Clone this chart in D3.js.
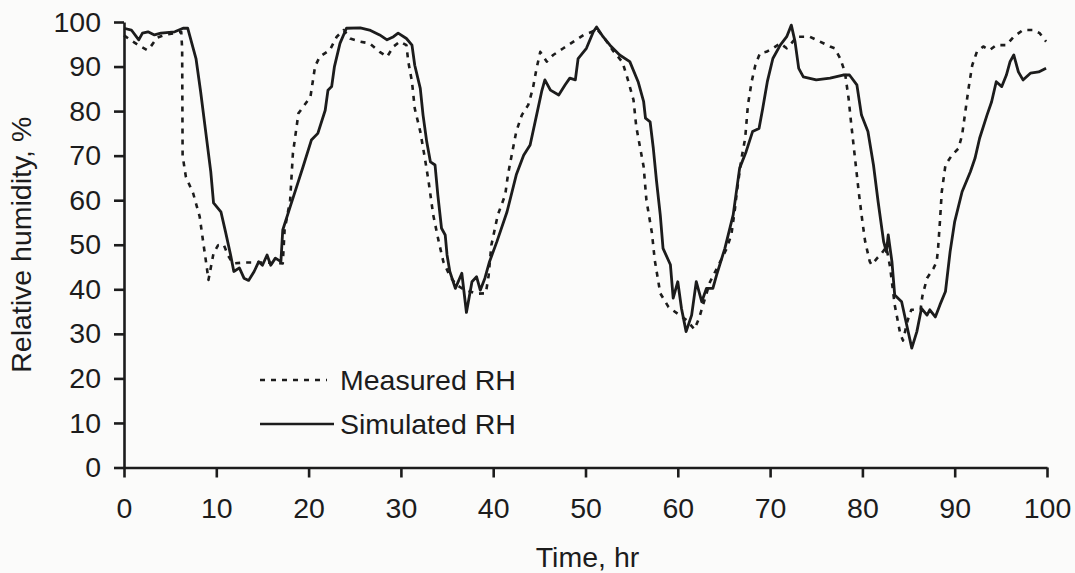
<!DOCTYPE html>
<html>
<head>
<meta charset="utf-8">
<script src="https://cdn.jsdelivr.net/npm/d3@7"></script>
<style>
  html, body { margin: 0; padding: 0; background: #fbfbfa; }
  svg { display: block; }
  text { font-family: "Liberation Sans", Arial, Helvetica, sans-serif; fill: #1c1c1c; }
</style>
</head>
<body>
<svg id="chart" width="1075" height="573"></svg>
<script>
// ---- data ----
const xTicks = [0, 10, 20, 30, 40, 50, 60, 70, 80, 90, 100];
const yTicks = [0, 10, 20, 30, 40, 50, 60, 70, 80, 90, 100];
const seriesNames = ["Measured RH", "Simulated RH"];

const measuredTime = [0,0.8,1.8,2.5,2.9,3.6,4.5,5.5,6.2,6.3,6.35,6.7,7.5,8.2,8.6,8.96,9.15,9.7,10.2,10.8,11.3,11.8,13,15,17.2,17.4,18.0,18.3,18.9,20.2,20.7,21.2,22.3,23.05,23.8,24.5,25.6,26.6,27.7,28.5,29.2,29.9,30.6,30.8,31.2,31.5,32.1,32.6,33.0,33.5,34.1,34.6,35.3,36.0,36.8,37.5,38.2,39.2,39.5,39.8,40.5,41.3,41.6,42.0,42.5,43.1,43.8,44.3,44.7,45.1,45.8,46.5,47.6,48.7,49.8,50.7,51.2,52.0,53.0,54.0,54.5,55.2,55.5,56.3,56.6,57.2,57.5,58.1,59.0,60.0,61.0,61.8,62.3,63.5,64.6,65.3,65.8,66.2,66.4,66.9,67.3,67.6,68.0,68.4,68.9,69.6,70.3,71.1,71.8,72.3,72.9,74.3,75.4,76.5,77.0,77.6,78.1,78.5,78.8,79.2,79.6,80.0,80.3,80.8,81.0,81.6,82.1,82.6,83.0,83.5,84.1,84.4,84.9,85.3,86.3,86.5,87.0,87.7,88.05,88.2,88.4,88.6,89.0,89.7,90.4,90.8,91.1,91.5,91.9,92.4,93.1,93.8,94.5,95.6,96.4,97.4,98.5,99.2,99.9];
const measuredRH = [97.0,95.8,94.5,93.7,94.5,96.5,97.2,97.5,97.8,94,70,65.3,61.5,56.3,50.3,45.1,42.1,48.1,49.9,50,47.5,45.8,46,46,45.8,53.3,60,70.5,79.5,83.2,90,92.2,93.7,96.7,98.2,96.3,95.6,95.2,93.3,92.2,94.5,95.6,94.8,91.1,86.6,80.6,75.4,69.4,64.2,56.7,50.7,46.2,43,41,40,39.5,39,39.1,43,49.9,56.7,61.2,65.7,70.1,75.4,79.1,81.4,85.1,89.6,93.3,91.1,92.6,94.1,95.6,97.1,97.8,98.5,96.5,93.5,91,87.7,82.5,76.5,67.5,60,52.6,46.6,39.1,36,34.5,33,31,33.5,41.7,46.2,49.2,52.2,58.2,61.9,69.4,73.9,81.4,86.6,90.3,93.0,93.3,94.1,95.2,94.1,95.2,96.7,96.7,95.6,94.5,94.1,91.8,88.8,82.9,76.9,69.4,61.9,55.2,50.7,46.2,45.5,47.0,48.1,49.5,45,36.5,30,28.5,33,35.4,35.4,38.5,42.5,44.7,46.2,49.2,55.2,61.9,67.9,70.1,71.6,74.6,79.1,85.1,90.3,93.3,94.5,93.7,94.8,94.8,96.7,98.2,98.2,97.5,95.6];

const simulatedTime = [0,0.8,1.6,2.0,2.6,3.3,4.0,5.5,6.4,6.9,7.8,8.3,8.85,9.4,9.7,10.5,11.0,11.55,11.9,12.5,13.0,13.5,14.1,14.6,15.0,15.5,15.9,16.4,17.0,17.2,18.0,18.7,19.4,20.3,21.0,21.8,22.1,22.5,22.8,23.4,24.1,25.6,26.6,27.7,28.5,29.2,29.7,30.6,31.2,31.5,32.1,32.4,32.8,33.2,33.7,34.0,34.4,34.8,35.0,35.3,35.9,36.6,37.1,37.7,38.2,38.6,39.1,39.6,40.4,41.5,42.5,43.3,44.0,44.7,45.25,45.6,46.2,47.1,47.8,48.3,48.9,49.2,50.1,50.85,51.2,51.9,52.65,53.7,54.8,55.7,56.3,56.5,57.0,57.35,57.7,58.1,58.4,59.2,59.5,60.0,60.4,60.9,61.5,62.0,62.6,63.1,63.8,64.2,65.1,66.0,66.7,67.4,68.1,68.8,69.2,69.7,70.3,71.1,71.8,72.3,72.7,73.1,73.6,75.0,76.5,77.9,78.6,79.4,79.9,80.6,81.2,81.7,82.3,82.6,82.8,83.2,83.5,84.25,84.8,85.35,85.9,86.4,87.0,87.3,87.9,88.4,89.0,89.5,90.0,90.8,91.7,92.2,92.7,93.5,94.0,94.5,95.1,95.6,96.0,96.4,96.9,97.4,98.2,99.1,99.9];
const simulatedRH = [98.6,98.2,96.0,97.5,97.8,97.1,97.5,97.8,98.6,98.6,91.8,84.4,75.4,66.4,59.4,57.4,52.9,47.7,44.0,44.8,42.5,42.0,44.0,46.2,45.4,47.7,45.4,47.0,46.2,53.3,58.5,63.0,67.5,73.5,75.0,80.2,84.7,85.5,90.0,95.2,98.6,98.7,98.2,97.1,96.0,96.7,97.5,96.3,94.8,90.3,85.1,79.1,73.1,68.6,67.9,61.2,53.7,52.2,47.7,44.0,40.2,43.6,34.8,41.7,42.8,39.8,42.5,46.2,50.7,57.4,65.7,70.1,72.4,79.1,84.4,87.0,84.7,83.6,85.9,87.4,87.0,91.8,94.1,97.8,98.9,96.7,94.8,92.6,91.1,86.6,82.1,78.4,77.6,71.6,64.2,56.7,49.2,45.5,38.0,41.7,35.7,30.5,34.2,41.7,37.2,40.2,40.2,43.2,49.2,56.7,67.2,70.9,75.4,76.1,80.6,86.6,91.8,94.8,96.7,99.3,95.6,89.6,87.7,87.0,87.4,88.1,88.1,85.9,79.1,75.4,67.9,59.7,50.7,48.4,52.2,46.2,38.7,37.2,32.0,26.8,30.5,35.7,34.2,35.4,33.8,36.5,39.5,48.4,55.2,61.9,66.4,69.4,73.9,79.1,82.1,86.6,85.5,88.1,91.1,92.6,88.8,87.0,88.5,88.8,89.6];

// ---- layout ----
const svg = d3.select("#chart");
const plot = { left: 124, right: 1047, top: 22, bottom: 467.5 };
const ink = "#1c1c1c";
const fontSize = "28.5px";

const x = d3.scaleLinear().domain([0, 100]).range([plot.left, plot.right]);
const y = d3.scaleLinear().domain([0, 100]).range([plot.bottom, plot.top]);

// axes
const xAxis = svg.append("g")
  .attr("transform", `translate(0,${plot.bottom})`)
  .call(d3.axisBottom(x).tickValues(xTicks).tickSize(10).tickSizeOuter(0).tickPadding(20).tickFormat(d3.format("d")));
const yAxis = svg.append("g")
  .attr("transform", `translate(${plot.left},0)`)
  .call(d3.axisLeft(y).tickValues(yTicks).tickSize(10).tickSizeOuter(0).tickPadding(13).tickFormat(d3.format("d")));

[xAxis, yAxis].forEach(g => {
  g.selectAll("path.domain").attr("stroke", ink).attr("stroke-width", 2.6);
  g.selectAll(".tick line").attr("stroke", ink).attr("stroke-width", 2.6);
  g.selectAll(".tick text")
    .style("font-family", '"Liberation Sans", Arial, sans-serif')
    .style("font-size", fontSize).attr("fill", ink);
});

// axis titles
svg.append("text")
  .attr("x", (plot.left + plot.right) / 2 + 2).attr("y", 567)
  .attr("text-anchor", "middle").style("font-size", fontSize)
  .text("Time, hr");
svg.append("text")
  .attr("transform", `translate(31,${(plot.top + plot.bottom) / 2}) rotate(-90)`)
  .attr("text-anchor", "middle").style("font-size", fontSize)
  .text("Relative humidity, %");

// lines
const line = d3.line().x(d => x(d[0])).y(d => y(d[1]));
const measured = measuredTime.map((t, i) => [t, measuredRH[i]]);
const simulated = simulatedTime.map((t, i) => [t, simulatedRH[i]]);

svg.append("path").datum(measured)
  .attr("d", line).attr("fill", "none").attr("stroke", ink)
  .attr("stroke-width", 2.6).attr("stroke-dasharray", "5,6")
  .attr("stroke-linejoin", "round");
svg.append("path").datum(simulated)
  .attr("d", line).attr("fill", "none").attr("stroke", ink)
  .attr("stroke-width", 2.8).attr("stroke-linejoin", "round");

// legend
const legend = svg.append("g");
const legendRows = [
  { name: seriesNames[0], y: 380, dash: "5,6", x2: 327 },
  { name: seriesNames[1], y: 424, dash: null, x2: 334 }
];
legendRows.forEach(r => {
  legend.append("line").attr("x1", 260).attr("x2", r.x2).attr("y1", r.y).attr("y2", r.y)
    .attr("stroke", ink).attr("stroke-width", 2.6)
    .attr("stroke-dasharray", r.dash);
  legend.append("text").attr("x", 340).attr("y", r.y + 10)
    .style("font-size", fontSize).text(r.name);
});
</script>
</body>
</html>
